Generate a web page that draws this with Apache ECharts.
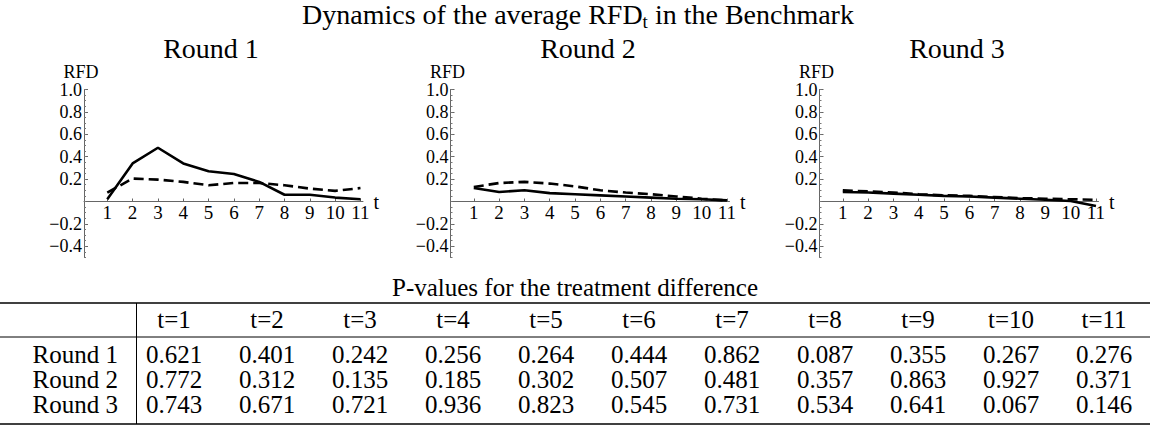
<!DOCTYPE html>
<html>
<head>
<meta charset="utf-8">
<title>RFD dynamics</title>
<script src="https://cdn.jsdelivr.net/npm/echarts@6/dist/echarts.min.js"></script>
<style>
  html, body { margin: 0; padding: 0; background: #fff; }
  #chart { width: 1150px; height: 433px; }
</style>
</head>
<body>
<div id="chart"></div>
<script>
// periods on the x axis
const periods = [1, 2, 3, 4, 5, 6, 7, 8, 9, 10, 11];
const roundNames = ['Round 1', 'Round 2', 'Round 3'];

// average RFD, solid line
const solidR1 = [0.02, 0.34, 0.48, 0.34, 0.27, 0.245, 0.175, 0.06, 0.06, 0.035, 0.02];
const solidR2 = [0.12, 0.085, 0.10, 0.075, 0.065, 0.055, 0.045, 0.035, 0.025, 0.02, 0.01];
const solidR3 = [0.085, 0.08, 0.07, 0.06, 0.05, 0.045, 0.035, 0.025, 0.015, 0.005, -0.04];
// average RFD, dashed line
const dashedR1 = [0.08, 0.205, 0.195, 0.175, 0.145, 0.165, 0.165, 0.145, 0.115, 0.095, 0.12];
const dashedR2 = [0.13, 0.165, 0.175, 0.16, 0.135, 0.10, 0.08, 0.065, 0.045, 0.025, 0.01];
const dashedR3 = [0.10, 0.09, 0.08, 0.065, 0.055, 0.05, 0.04, 0.03, 0.025, 0.02, 0.015];

const yTicks = [-0.4, -0.2, 0.2, 0.4, 0.6, 0.8, 1.0];

// p-values for the treatment difference
const pvalR1 = [0.621, 0.401, 0.242, 0.256, 0.264, 0.444, 0.862, 0.087, 0.355, 0.267, 0.276];
const pvalR2 = [0.772, 0.312, 0.135, 0.185, 0.302, 0.507, 0.481, 0.357, 0.863, 0.927, 0.371];
const pvalR3 = [0.743, 0.671, 0.721, 0.936, 0.823, 0.545, 0.731, 0.534, 0.641, 0.067, 0.146];

const solid = [solidR1, solidR2, solidR3];
const dashed = [dashedR1, dashedR2, dashedR3];
const pvals = [pvalR1, pvalR2, pvalR3];

const FONT = '"Liberation Serif", "DejaVu Serif", serif';
const gridLeft = [84, 450.5, 819.5];
const titleX = [211, 588, 957];
const GRID_TOP = 89.5, GRID_H = 168;
const Y_MIN = -0.5, Y_MAX = 1.0;

// minor ticks every 0.05
const minorTicks = [];
for (let k = -10; k <= 20; k++) minorTicks.push(+(k * 0.05).toFixed(2));

const fmtY = (v) => (v < 0 ? '\u2212' : '') + Math.abs(v).toFixed(1);

const chart = echarts.init(document.getElementById('chart'), null, { renderer: 'svg' });

const grids = [], xAxes = [], yAxes = [], series = [];
const titles = [{
  text: '{n|Dynamics of the average RFD}{s|t}{n| in the Benchmark}',
  left: 578, top: 1, padding: 0, textAlign: 'center',
  textStyle: {
    fontWeight: 'normal',
    rich: {
      n: { fontFamily: FONT, fontSize: 28, fontWeight: 'normal', lineHeight: 30, color: '#000', padding: [0, 0, 3, 0], verticalAlign: 'bottom' },
      s: { fontFamily: FONT, fontSize: 19, fontWeight: 'normal', lineHeight: 20, color: '#000', verticalAlign: 'bottom' }
    }
  }
}];

// x axis sits at y = 0: shift it up from the grid bottom
const zeroOffset = -GRID_H * (0 - Y_MIN) / (Y_MAX - Y_MIN);

roundNames.forEach((name, i) => {
  grids.push({ left: gridLeft[i], top: GRID_TOP, width: 279, height: GRID_H });
  titles.push({
    text: name, left: titleX[i], top: 33, padding: 0, textAlign: 'center',
    textStyle: { fontFamily: FONT, fontSize: 28, lineHeight: 30, fontWeight: 'normal', color: '#000' }
  });
  xAxes.push({
    type: 'value', gridIndex: i, min: 0.08, max: 11.1,
    position: 'bottom', offset: zeroOffset,
    name: 't', nameLocation: 'end', nameGap: 8,
    nameTextStyle: { fontFamily: FONT, fontSize: 20, color: '#000', verticalAlign: 'middle', padding: [0, 0, 4, 0] },
    axisLine: { onZero: false, lineStyle: { color: '#666', width: 1 } },
    axisTick: { show: true, inside: true, length: 3, customValues: periods, lineStyle: { color: '#666' } },
    axisLabel: { customValues: periods, margin: 1, fontFamily: FONT, fontSize: 19, color: '#000' },
    splitLine: { show: false }
  });
  yAxes.push({
    type: 'value', gridIndex: i, position: 'left', min: Y_MIN, max: Y_MAX, interval: 0.1,
    name: 'RFD', nameLocation: 'end', nameGap: 2,
    nameTextStyle: { fontFamily: FONT, fontSize: 18, color: '#000', align: 'center', padding: [0, 6, 0, 0] },
    axisLine: { show: true, lineStyle: { color: '#666', width: 1 } },
    axisTick: { show: true, inside: true, length: 4, customValues: yTicks, lineStyle: { color: '#666' } },
    axisLabel: { customValues: yTicks, formatter: fmtY, margin: 2, fontFamily: FONT, fontSize: 18, color: '#000' },
    splitLine: { show: false }
  });
  yAxes.push({
    type: 'value', gridIndex: i, position: 'left', min: Y_MIN, max: Y_MAX, interval: 0.1,
    axisLine: { show: false },
    axisTick: { show: true, inside: true, length: 2, customValues: minorTicks, lineStyle: { color: '#777' } },
    axisLabel: { show: false },
    splitLine: { show: false }
  });
  series.push({
    name: name + ' solid', type: 'line', xAxisIndex: i, yAxisIndex: 2 * i,
    data: periods.map((t, k) => [t, solid[i][k]]),
    showSymbol: false, z: 3,
    lineStyle: { color: '#000', width: 2.6 }
  });
  series.push({
    name: name + ' dashed', type: 'line', xAxisIndex: i, yAxisIndex: 2 * i,
    data: periods.map((t, k) => [t, dashed[i][k]]),
    showSymbol: false, z: 2,
    lineStyle: { color: '#000', width: 2.6, type: [10, 5] }
  });
});

// table drawn with graphic elements
const colX = periods.map((t, k) => 174 + 93 * k);
const rowY = [354, 379, 404];
const tableFont = '25px ' + FONT;
const graphic = [];
const txt = (x, y, s, align) => ({
  type: 'text', x: x, y: y, silent: true,
  style: { text: s, font: tableFont, fill: '#000', align: align || 'center', verticalAlign: 'middle' }
});
const rule = (x1, y1, x2, y2, w) => ({
  type: 'line', silent: true,
  shape: { x1: x1, y1: y1, x2: x2, y2: y2 },
  style: { stroke: '#000', lineWidth: w }
});
graphic.push(txt(575, 287, 'P-values for the treatment difference'));
graphic.push(rule(0, 303, 1150, 303, 1.6));
graphic.push(rule(0, 337, 1150, 337, 1));
graphic.push(rule(0, 424, 1150, 424, 1.6));
graphic.push(rule(136.5, 303, 136.5, 424, 1));
periods.forEach((t, k) => graphic.push(txt(colX[k], 319, 't=' + t)));
roundNames.forEach((name, r) => {
  graphic.push(txt(118, rowY[r], name, 'right'));
  pvals[r].forEach((v, k) => graphic.push(txt(colX[k], rowY[r], v.toFixed(3))));
});

chart.setOption({
  backgroundColor: '#fff',
  animation: false,
  title: titles,
  grid: grids,
  xAxis: xAxes,
  yAxis: yAxes,
  series: series,
  graphic: graphic
});
</script>
</body>
</html>
